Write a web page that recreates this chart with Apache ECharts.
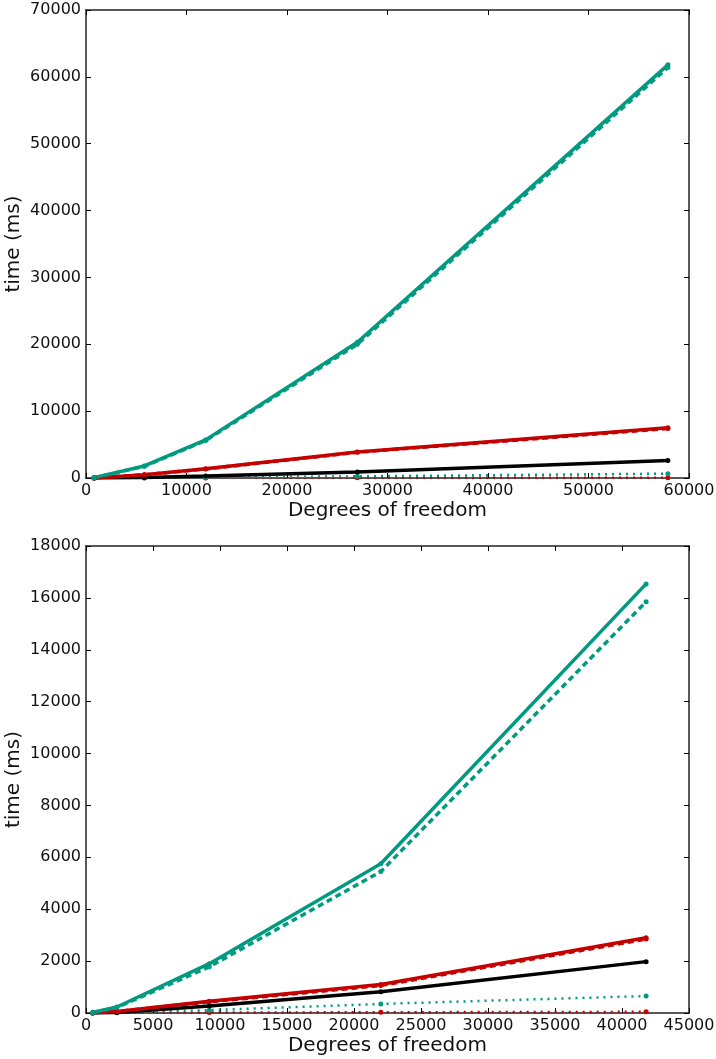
<!DOCTYPE html>
<html><head><meta charset="utf-8">
<script src="https://cdn.jsdelivr.net/npm/echarts@6/dist/echarts.min.js"></script>
<style>html,body{margin:0;padding:0;background:#fff}#c{width:716px;height:1059px}</style>
</head><body><div id="c"></div>
<script>
// Top panel
const topX = [800, 5800, 11900, 27000, 57900];
const topTealSolid = [50, 1800, 5700, 20300, 61800];
const topTealDashed = [50, 1750, 5600, 20000, 61400];
const topTealDotted = [1, 30, 80, 250, 650];
const topRedSolid = [10, 500, 1400, 3900, 7500];
const topRedDashed = [10, 480, 1350, 3850, 7400];
const topRedDotted = [1, 5, 10, 25, 50];
const topBlack = [5, 80, 300, 900, 2600];
// Bottom panel
const botX = [500, 2300, 9200, 22000, 41800];
const botTealSolid = [20, 230, 1900, 5750, 16540];
const botTealDashed = [20, 210, 1780, 5450, 15850];
const botTealDotted = [2, 25, 110, 350, 655];
const botRedSolid = [5, 60, 450, 1100, 2900];
const botRedDashed = [5, 55, 430, 1060, 2850];
const botRedDotted = [1, 5, 15, 30, 45];
const botBlack = [2, 20, 270, 820, 1980];

const TEAL = '#009a80', RED = '#c40000', BLACK = '#000000';
const FONT = 'DejaVu Sans';
const zip = (xs, ys) => xs.map((x, i) => [x, ys[i]]);

function mk(name, xs, ys, color, type, width, xi, yi) {
  return {
    name, type: 'line', xAxisIndex: xi, yAxisIndex: yi,
    data: zip(xs, ys), symbol: 'circle', symbolSize: 5,
    itemStyle: { color }, showSymbol: true,
    lineStyle: { color, width, type },
    animation: false, silent: true
  };
}
const DASH = [6, 4], DOT = [2, 5];
const axisLine = () => ({ show: true, onZero: false, lineStyle: { color: '#222', width: 1.5 } });
const tick = () => ({ show: true, inside: true, length: 5, lineStyle: { color: '#000', width: 1 } });
const lab = () => ({ fontFamily: FONT, fontSize: 16, color: '#111', formatter: v => String(v) });
const nameStyle = { fontFamily: FONT, fontSize: 20, color: '#111' };

function xAx(grid, max, interval, pos, isMain) {
  return {
    type: 'value', gridIndex: grid, min: 0, max, interval, position: pos,
    axisLine: axisLine(), axisTick: tick(), splitLine: { show: false },
    axisLabel: isMain ? Object.assign(lab(), { margin: 5 }) : { show: false },
    name: isMain ? 'Degrees of freedom' : '', nameLocation: 'middle', nameGap: 23, nameTextStyle: nameStyle,
    nameMoveOverlap: false
  };
}
function yAx(grid, max, interval, pos, isMain) {
  return {
    type: 'value', gridIndex: grid, min: 0, max, interval, position: pos,
    axisLine: axisLine(), axisTick: tick(), splitLine: { show: false },
    axisLabel: isMain ? Object.assign(lab(), { margin: 5 }) : { show: false },
    name: isMain ? 'time (ms)' : '', nameLocation: 'middle', nameGap: 62, nameTextStyle: nameStyle,
    nameMoveOverlap: false
  };
}

const option = {
  animation: false,
  grid: [
    { left: 86, right: 27, top: 10, height: 468, containLabel: false, outerBoundsMode: 'none' },
    { left: 86, right: 27, top: 546, height: 467, containLabel: false, outerBoundsMode: 'none' }
  ],
  xAxis: [
    xAx(0, 60000, 10000, 'bottom', true),
    xAx(0, 60000, 10000, 'top', false),
    xAx(1, 45000, 5000, 'bottom', true),
    xAx(1, 45000, 5000, 'top', false)
  ],
  yAxis: [
    yAx(0, 70000, 10000, 'left', true),
    yAx(0, 70000, 10000, 'right', false),
    yAx(1, 18000, 2000, 'left', true),
    yAx(1, 18000, 2000, 'right', false)
  ],
  series: [
    mk('top red dotted', topX, topRedDotted, RED, DOT, 2.5, 0, 0),
    mk('top teal dotted', topX, topTealDotted, TEAL, DOT, 2.5, 0, 0),
    mk('top black', topX, topBlack, BLACK, 'solid', 3.5, 0, 0),
    mk('top red dashed', topX, topRedDashed, RED, DASH, 3.5, 0, 0),
    mk('top red solid', topX, topRedSolid, RED, 'solid', 3.5, 0, 0),
    mk('top teal dashed', topX, topTealDashed, TEAL, DASH, 3.5, 0, 0),
    mk('top teal solid', topX, topTealSolid, TEAL, 'solid', 3.5, 0, 0),
    mk('bot red dotted', botX, botRedDotted, RED, DOT, 2.5, 2, 2),
    mk('bot teal dotted', botX, botTealDotted, TEAL, DOT, 2.5, 2, 2),
    mk('bot black', botX, botBlack, BLACK, 'solid', 3.5, 2, 2),
    mk('bot red dashed', botX, botRedDashed, RED, DASH, 3.5, 2, 2),
    mk('bot red solid', botX, botRedSolid, RED, 'solid', 3.5, 2, 2),
    mk('bot teal dashed', botX, botTealDashed, TEAL, DASH, 3.5, 2, 2),
    mk('bot teal solid', botX, botTealSolid, TEAL, 'solid', 3.5, 2, 2)
  ]
};
const chart = echarts.init(document.getElementById('c'), null, { renderer: 'canvas' });
chart.setOption(option);
</script></body></html>
